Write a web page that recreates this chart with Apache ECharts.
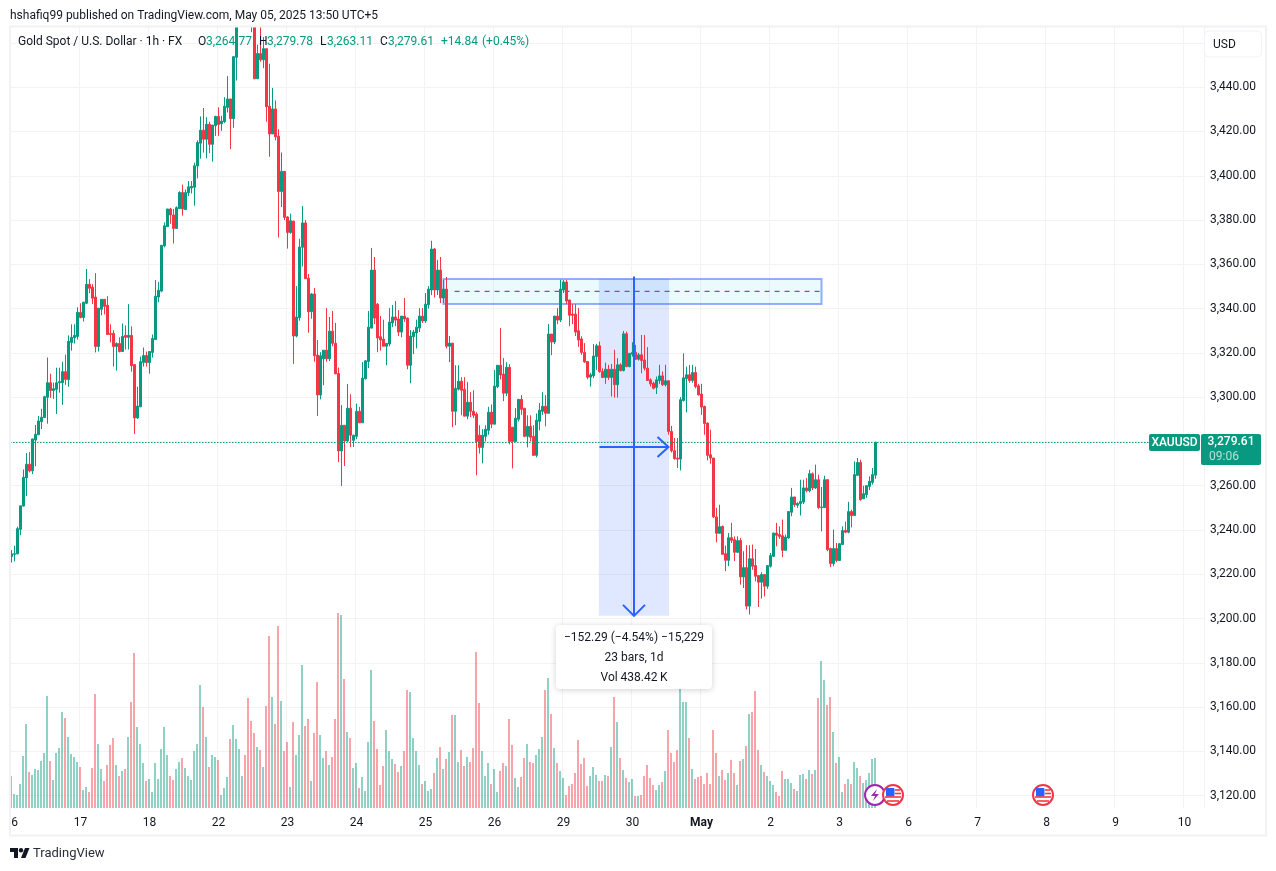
<!DOCTYPE html>
<html>
<head>
<meta charset="utf-8">
<title>XAUUSD 1h</title>
<script src="https://cdn.jsdelivr.net/npm/echarts@6/dist/echarts.min.js"></script>
<style>
html, body { margin: 0; padding: 0; background: #fff; }
#chart { width: 1276px; height: 871px; }
</style>
</head>
<body>
<div id="chart"></div>
<script>
// hourly bars
var opens = [
    3228.0,3229.0,3229.2,3240.3,3250.8,3263.5,3269.7,3266.7,3280.6,3283,
    3288.9,3290.8,3299.9,3306.5,3303,3303.5,3306.5,3306.5,3311.5,3307.9,
    3324.7,3326.8,3327.4,3338.3,3336,3342.4,3351,3349.7,3345.2,3322.9,
    3339.7,3344.2,3341.5,3328.8,3328.8,3322.9,3324.2,3320.6,3327.9,3327,
    3327.9,3314.7,3290.6,3295.6,3315.6,3318.8,3315.6,3320.2,3326,3345.2,
    3347.9,3368.3,3377,3385,3382.3,3376.2,3385.2,3392.4,3384.7,3392.3,
    3394.5,3394.8,3404.4,3414.7,3420.6,3416.5,3423.3,3414.2,3422.6,3426.8,
    3423.5,3424.4,3430.9,3434.7,3425.8,3453.5,3470,3480,3495,3485,
    3478,3470,3443.8,3455.2,3452.4,3457.4,3431.4,3418.9,3430.2,3417.9,
    3392.9,3402,3381.4,3374.4,3379.5,3327.6,3335.9,3367.7,3378.7,3353.7,
    3338.6,3346.6,3319,3301,3317.3,3321.2,3317.3,3329.8,3324.3,3310.7,
    3275.7,3287.3,3280.2,3295,3280.5,3282.3,3293.6,3288.4,3308.3,3316.1,
    3331.2,3357.4,3342,3327.3,3326.2,3323,3324,3333.5,3336.2,3335.3,
    3329.4,3336.6,3335.7,3314.4,3327.3,3329,3331.2,3336.6,3334.4,3341.7,
    3348.4,3366.9,3348.4,3357.4,3344.8,3348.8,3323,3324.4,3293.6,3303.6,
    3307.2,3303.6,3291.4,3297.7,3293.6,3292.3,3282.8,3277.3,3282.3,3285,
    3293.2,3287.8,3304.7,3314.4,3310.4,3301.8,3313.5,3286.4,3280,3290,
    3299,3295,3282.3,3286.8,3282.3,3273.7,3289.1,3293.6,3295.9,3292.7,
    3328.5,3324.9,3336.6,3334.8,3348.4,3352,3343.9,3337.5,3337.5,3330,
    3326.3,3320.2,3316.1,3309,3309.6,3318.3,3323.2,3311.6,3308.9,3312.6,
    3308.9,3312.6,3305.6,3314.6,3312,3328.6,3313.8,3319.4,3320.3,3317.1,
    3319.1,3316.8,3313.1,3307.8,3306.3,3304.4,3307.5,3309.6,3305.6,3307.4,
    3284.5,3275.8,3272.5,3272,3298.5,3308.3,3310.1,3307.5,3311.1,3305.1,
    3301.4,3295.8,3288.3,3274,3272.5,3245.9,3238.5,3241.6,3229.3,3226.3,
    3236.5,3235.6,3229.9,3235.2,3218.8,3223,3205.6,3227,3223.9,3219.4,
    3216.4,3219.9,3214.6,3223.6,3228.1,3238.6,3237.9,3237.4,3230.8,3236.4,
    3248,3254.9,3251.2,3251.9,3252.6,3259,3257.7,3265.4,3259,3262.7,
    3250.1,3250.1,3262.7,3231.6,3224.8,3231.6,3226.2,3233.4,3239.8,3239,
    3248.3,3246.5,3264.7,3270.5,3254.1,3256,3259.7,3261.5,3264.77
];
var closes = [
    3229.2,3229.3,3240.6,3250.9,3263.8,3269.7,3266.7,3281.1,3283.2,3289.2,
    3290.9,3300.2,3306.5,3303,3303.8,3306.5,3307,3311.5,3308,3325.2,
    3327,3327.9,3338.3,3336,3342.9,3351,3349.2,3344.7,3322.9,3340.2,
    3344.2,3341,3328.3,3328.3,3322.9,3324.2,3320.6,3327.4,3327,3327.9,
    3314.2,3290.6,3296,3316,3318.8,3315.6,3320.6,3326.5,3345.6,3348.3,
    3368.6,3377.4,3385,3382.3,3376.2,3385.6,3392.4,3385,3392.4,3395,
    3395.2,3404.5,3415,3420.6,3416.5,3423.3,3414.2,3422.9,3426.8,3423.2,
    3424.7,3431.4,3434.7,3425.8,3453.8,3470,3480,3490,3485,3478,
    3470,3443.8,3455.2,3452.4,3457.4,3431.2,3418.9,3430.2,3417.6,3392.9,
    3402,3381.2,3374.4,3379.7,3327.6,3336.2,3367.8,3378.7,3353.5,3338.6,
    3346.6,3318.7,3301,3318.7,3321.2,3317.3,3329.8,3324.3,3310.5,3275.7,
    3287.3,3280.2,3295,3282.8,3282.8,3293.6,3288.4,3308.6,3316.4,3331.6,
    3357.4,3335.7,3326.7,3325.8,3323,3324.3,3333.9,3336.2,3334.8,3329.4,
    3336.6,3335.3,3314.4,3327.6,3329.4,3331.6,3336.6,3334.4,3342,3348.8,
    3366.9,3348.4,3357.4,3344.8,3348.8,3323,3324.4,3293.6,3304,3307.2,
    3303.1,3291.4,3297.7,3293.6,3291.8,3280,3277.3,3282.8,3285.5,3293.2,
    3287.8,3305,3314.4,3310,3301.8,3313.5,3280,3280,3290.5,3299,
    3294.5,3282.3,3286.8,3281.9,3273.7,3289.6,3294.1,3295.9,3292.7,3328.5,
    3324.9,3336.6,3334.8,3348.8,3352,3343.4,3337,3337,3329.4,3325.8,
    3320.2,3315.9,3309,3310.1,3318.6,3323.2,3311.6,3308.9,3312.6,3308.9,
    3312.6,3305.6,3314.6,3312,3328.6,3313.8,3319.8,3320.2,3317.1,3319.1,
    3316.5,3313.1,3307.5,3306,3304,3307.8,3309.6,3305.6,3307.4,3284.5,
    3275.8,3272.2,3272,3298.8,3308.7,3310.1,3307.5,3311.1,3304.8,3301,
    3295.5,3288.1,3273.7,3272.5,3245.9,3238.5,3241.5,3229,3226.3,3236.5,
    3235.3,3229.9,3235.2,3218.8,3223,3205.6,3227,3223.6,3219.1,3216.4,
    3219.9,3214.6,3223.9,3228.4,3238.6,3237.6,3237.1,3230.8,3236.8,3248.3,
    3254.9,3251.4,3252,3252.9,3259,3257.7,3265.4,3259,3262.7,3250.1,
    3250.4,3262.7,3231.1,3224.8,3231.6,3226.2,3233.8,3239.7,3239,3248.3,
    3246.5,3265,3270.5,3253.7,3256.4,3260,3262,3265,3279.61
];
var lows = [
    3225.3,3225.8,3229.0,3237.6,3250.6,3255.3,3266,3265.2,3268.8,3283,
    3285.6,3290.8,3288,3299.7,3299.2,3292.4,3302,3296.5,3305.6,3304.7,
    3321,3324.2,3326,3335.6,3334.2,3342,3347,3342,3320.2,3320.6,
    3337,3337.4,3328.3,3324.7,3313.8,3312,3320.2,3320.6,3321.5,3321.5,
    3311.5,3283.3,3290.2,3295.6,3313.8,3313.8,3310.6,3317.9,3326,3342.9,
    3347.4,3367.7,3377,3378.3,3369.4,3376.2,3385.2,3382,3384.7,3390.8,
    3392,3386.5,3398.8,3407.7,3410.5,3407.9,3410.2,3406.4,3418,3418,
    3420.3,3423.8,3428.6,3412,3421.7,3443,3468,3478,3478,3470,
    3464.9,3443.8,3443.8,3451.5,3448.6,3424.4,3408.6,3418.9,3416,3372.1,
    3385.9,3380,3367.1,3373.8,3315,3327,3334.5,3359,3353.5,3329.1,
    3335.4,3316,3291.5,3299,3305.4,3316,3316.3,3323,3310.5,3270.7,
    3259.9,3268.9,3279.8,3277.5,3277.5,3281,3288.4,3288.4,3308,3313.1,
    3331,3333,3320.3,3321,3323,3314.4,3323,3331.6,3332,3327.6,
    3327,3334,3312.6,3306.3,3319.4,3322,3329.4,3333.5,3333.5,3340,
    3346.1,3345,3346.1,3342.5,3342.5,3322,3315.8,3286.4,3287.3,3303,
    3291.8,3291.4,3290,3291,3290.5,3264.7,3274.5,3270.1,3280,3283,
    3286,3287.8,3304,3308,3298.2,3300.5,3278.7,3267.8,3280,3289,
    3292,3281.9,3277.3,3280,3273.7,3272.8,3285,3292,3286.8,3292.7,
    3319,3324,3333,3333.9,3347,3342,3332,3333,3327.6,3322.7,
    3319.1,3315.5,3308.1,3304.8,3308.6,3312.3,3311,3308.6,3306,3307.8,
    3300.3,3299.8,3299.8,3311.6,3311.6,3313.5,3313.5,3318.3,3316.8,3316.5,
    3310.8,3312,3307.4,3304.8,3303.5,3301.4,3306,3305,3304.8,3283,
    3275,3271.7,3268,3266.9,3298,3293.1,3306.5,3306.5,3304,3300.8,
    3292,3283,3271.4,3269.9,3245.4,3234.4,3238.5,3229,3221.4,3223.6,
    3234.1,3225.9,3229.6,3215.3,3213.8,3204.1,3201.8,3222,3216.8,3205.2,
    3209,3210,3213.4,3223,3228,3232.6,3236,3227.7,3230.8,3236,
    3246.2,3250.4,3250,3246.5,3251.7,3257,3257,3258,3258.5,3249.5,
    3239.4,3250,3230.4,3223.2,3223.6,3225.4,3226,3233.4,3238.5,3238.5,
    3241.2,3246.5,3264.5,3253.2,3254,3254.5,3258,3260.5,3263.11
];
var highs = [
    3230.9,3232.9,3241.5,3251,3267.3,3274.7,3275.2,3281.2,3287.4,3291.5,
    3294.7,3300.6,3317.9,3310.6,3306.5,3313.3,3313.3,3316,3319.2,3327.9,
    3332.9,3332.9,3340.6,3342.4,3342.9,3357.9,3353.3,3351,3356,3340.2,
    3344.2,3344.2,3345.6,3332.9,3330.2,3324.7,3327,3333.3,3332.4,3342,
    3332,3314.7,3304.7,3318.3,3322.4,3320.6,3320.6,3328.3,3352.9,3352,
    3368.6,3378.9,3385,3385.5,3385,3386.2,3393,3396,3393.8,3397.6,
    3397.6,3405.9,3416,3426.8,3430.6,3426.4,3424.4,3422.9,3427.1,3430.9,
    3427.1,3435.5,3445,3434.7,3453.8,3475,3486,3496,3500,3490,
    3485,3480,3459.2,3468,3462.7,3457.4,3450.6,3439.7,3434,3421,
    3410.5,3402,3381.7,3382.9,3379.7,3350.2,3371.5,3386.4,3380,3355.6,
    3347,3349.3,3325.8,3320.3,3321.2,3340.2,3336.2,3338.9,3333.5,3313.4,
    3296.4,3287.3,3305.9,3301.3,3283,3297.1,3295.6,3315.8,3316.7,3338.9,
    3367.4,3363.3,3342.5,3336.6,3335,3324.3,3340.2,3341.6,3343.4,3339.3,
    3336.6,3344.8,3336,3330.3,3330.3,3335,3340.2,3340.2,3347,3350.2,
    3370.6,3367.4,3362,3363.3,3353,3354.3,3327.6,3324.4,3314.4,3314.4,
    3309,3309,3306.8,3302.2,3303.1,3293.2,3287.3,3285.5,3287.3,3295.6,
    3296.7,3312.2,3314.4,3331.2,3317.6,3315.8,3314.9,3286.4,3295,3299.1,
    3300.9,3295,3291.8,3291.8,3287.3,3292.6,3297.3,3302.2,3300.9,3333,
    3328.5,3336.6,3340.2,3353,3352.9,3353,3343.9,3342,3342,3340.2,
    3327.5,3324.4,3316.1,3311,3324,3324.1,3325.1,3313,3315.6,3314.6,
    3315,3321.4,3317.6,3315.3,3329.9,3329.6,3319.8,3324.8,3323.6,3320,
    3328.1,3328.1,3322.6,3308.5,3307,3309.3,3314.6,3311.6,3314.6,3307.5,
    3287,3281.5,3281.5,3300,3319.8,3313.8,3314.6,3314.6,3313.8,3306,
    3306,3296.2,3288.5,3285.3,3272.5,3250,3251.4,3242,3233,3238.6,
    3243.2,3237.1,3237.1,3236.4,3230.4,3233.1,3233.1,3233.4,3231.4,3219.4,
    3220.9,3220,3224,3229.6,3238.7,3243.2,3241.6,3244.7,3237.9,3248.3,
    3259,3255,3252.5,3262.7,3262.7,3263.4,3267.2,3266,3269.5,3265,
    3259.4,3264.5,3263,3232,3240.2,3234.1,3234,3241.7,3243.8,3252.7,
    3249.2,3271,3272.5,3271.7,3260,3260.1,3264.2,3268,3279.78
];
// volume in thousands
var volumes = [
    16,7,6.5,12,26,42,18,16.5,19.5,19,
    23.5,27.5,56,23.5,14,27.5,30,48,45,35.5,
    27,25.5,23,20.5,9,10.5,8,20,57,32,
    19.5,13.5,21.5,31.5,35,21.5,16,18.5,19.5,35.5,
    53,77.5,40.5,32,22.5,13.5,14.5,8,22.5,14.5,
    29.5,40.5,26.5,16,14,19.5,23,25,20,16,
    14,28.5,32,61.5,50.5,35.5,20.5,26.5,25.5,24,
    6.5,10,15.5,34.5,41.5,34.5,29.5,16,26.5,55,
    43.5,37.5,30.5,29,20.5,51,86,55.5,42,91,
    53.5,28.5,33,10.5,43,26.5,36.5,71.5,41,44.5,
    13.5,37.5,63,36.5,25,28.5,21.5,25.5,44.5,97.3,
    96.5,64.5,38,35,20,22.5,10,15.5,8.5,33,
    69,43.5,29.5,11.5,21,39,28.5,24.5,22,18,
    21,28.5,59,58,35,28.5,21.5,12,13.5,8.5,
    9.5,17.5,25,30.5,19.5,24.5,28,46.5,46.5,23,
    29,21,25.5,23,30,78,52.5,28.5,16,22.5,
    12,19.5,8,18.5,22.5,21,44.5,31.5,15,10.5,
    15.5,25,32,23,22.5,26.5,29.5,35.5,59,65,
    47,30,22.5,18.5,15,6.5,11,12,17.5,34,
    22,25,11,16,20.5,16.5,13.5,13.5,16.5,16,
    30.5,55.5,43,25,19,15,13,14.5,6,6,
    6.5,16,21.5,15,11.5,9,11.5,13,18.5,39,
    27.5,23,29,69.5,53,53,35,19.5,14.5,15.5,
    16,12,17.5,12,39,27.5,16,19,14,17.3,
    24,17.5,11.5,23.5,24.5,31,47,48,58.5,29,
    21.5,18,16,13.5,11.5,8,6,18.5,14.5,14.5,
    12.5,9.5,8.5,16.5,17,14.5,19,17,19,55,
    73.5,64,51.5,55.5,38,22.5,25.5,8,12,14.5,
    12,23,20,16,12.3,14,17.5,24.5,25
];
var priceTicks = [3120,3140,3160,3180,3200,3220,3240,3260,3280,3300,3320,3340,3360,3380,3400,3420,3440,3460];
// day labels sit every 23 bars; the first one is cut by the left edge so it only shows "6"
var dayLabels = ['6','17','18','22','23','24','25','26','29','30','May','2','3','6','7','8','9','10'];
var lastPrice = 3279.61;
// drawings: [fromBar, fromPrice, toBar, toPrice]
var zoneBox = [144, 3353.4, 270, 3342.1];
var zoneMid = [147.7, 3347.8, 270, 3347.8];
var measureBox = [195.8, 3353.5, 219.2, 3201.2];
var measureDown = [207.5, 3354.5, 207.5, 3201.2];
var measureRight = [196, 3277.5, 219, 3277.5];

var UP = '#089981', DOWN = '#F23645', BLUE = '#2962FF', INK = '#131722';
var FONT = 'Roboto, "Noto Sans", sans-serif';
var BAR_SLOTS = 398;

var categories = [];
for (var c = 0; c < BAR_SLOTS; c++) {
    categories.push(String(c));
}
categories[1] = dayLabels[0];
for (var d = 1; d < dayLabels.length; d++) {
    categories[d * 23] = dayLabels[d];
}

var candles = [], volumeBars = [];
for (var i = 0; i < opens.length; i++) {
    candles.push([opens[i], closes[i], lows[i], highs[i]]);
    volumeBars.push([i, volumes[i], closes[i] >= opens[i] ? 1 : 0]);
}

function drawingSeries(name, item, z, draw) {
    return {
        name: name,
        type: 'custom',
        xAxisIndex: 1,
        yAxisIndex: 0,
        z: z,
        silent: true,
        clip: false,
        data: [item],
        encode: { x: [0, 2], y: [1, 3] },
        renderItem: function(params, api) {
            var a = api.coord([api.value(0), api.value(1)]);
            var b = api.coord([api.value(2), api.value(3)]);
            return draw(a, b);
        }
    };
}

function rectOf(a, b, style) {
    return {
        type: 'rect',
        shape: { x: a[0], y: a[1], width: b[0] - a[0], height: b[1] - a[1] },
        style: style
    };
}

function lineStyle(color, width, dash) {
    return { stroke: color, lineWidth: width, fill: null, lineDash: dash || null };
}

function polyOf(points, style) {
    return { type: 'polyline', shape: { points: points }, style: style };
}

function text(x, y, str, color, extra) {
    var style = {
        x: x, y: y, text: str, fill: color || INK,
        font: '12px ' + FONT, textVerticalAlign: 'middle', textAlign: 'left'
    };
    for (var k in extra) {
        style[k] = extra[k];
    }
    return { type: 'text', z: 50, style: style };
}

function rr(x, y, w, h, r, fill, extra) {
    var el = {
        type: 'rect', z: 40,
        shape: { x: x, y: y, width: w, height: h, r: r },
        style: { fill: fill }
    };
    for (var k in extra) {
        el.style[k] = extra[k];
    }
    return el;
}

// flag badge of the economic events row
function flagBadge(x, y) {
    function stripe(x0, x1, yy) {
        return { type: 'line', z: 47, shape: { x1: x + x0, y1: y + yy, x2: x + x1, y2: y + yy },
            style: { stroke: '#F23645', lineWidth: 1.6 } };
    }
    return [
        { type: 'circle', z: 46, shape: { cx: x, cy: y, r: 10 }, style: { fill: '#fff', stroke: '#F23645', lineWidth: 2 } },
        rr(x - 7, y - 7, 8.5, 8.5, 1, '#2962FF', {}),
        stripe(2, 7, -5), stripe(2, 8, -1.5), stripe(-8, 8, 2), stripe(-6, 6, 6)
    ].map(function(el, n) { el.z = n === 0 ? 46 : 47; return el; });
}

var legendValues = [
    [198, 'O', INK], [206, '3,264.77', UP], [259, 'H', INK], [267, '3,279.78', UP],
    [320, 'L', INK], [327, '3,263.11', UP], [380, 'C', INK], [388, '3,279.61', UP],
    [441, '+14.84', UP], [482, '(+0.45%)', UP]
];

var graphics = [
    // bars above the pane are cut here
    { type: 'rect', z: 29, shape: { x: 0, y: 0, width: 1276, height: 26 }, style: { fill: '#fff' } },
    // frame of the pane
    { type: 'rect', z: 30, shape: { x: 10, y: 26.5, width: 1256, height: 809 },
        style: { fill: null, stroke: '#F2F2F2', lineWidth: 2 } },
    text(10, 16, 'hshafiq99 published on TradingView.com, May 05, 2025 13:50 UTC+5', INK),
    text(18, 42, 'Gold Spot / U.S. Dollar \u00b7 1h \u00b7 FX', INK),
    // currency button
    rr(1204.5, 31, 57, 26, 4, '#fff', { stroke: '#F0F3FA', lineWidth: 1 }),
    text(1213, 45, 'USD', INK),
    // last price tags
    rr(1149, 434, 51, 17, 2, UP, {}),
    text(1174.5, 443, 'XAUUSD', '#fff', { textAlign: 'center', font: '500 12px ' + FONT }),
    rr(1201, 434, 60, 31, 2, UP, {}),
    text(1231, 442, '3,279.61', '#fff', { textAlign: 'center', font: '500 12px ' + FONT }),
    text(1224, 457, '09:06', '#B5E0D8', { textAlign: 'center' }),
    // measure tooltip
    rr(556, 625, 156, 64, 4, '#fff', { shadowBlur: 6, shadowColor: 'rgba(0,0,0,0.18)', shadowOffsetY: 1 }),
    text(634, 638, '\u2212152.29 (\u22124.54%) \u221215,229', INK, { textAlign: 'center' }),
    text(634, 658, '23 bars, 1d', INK, { textAlign: 'center' }),
    text(634, 678, 'Vol 438.42\u2009K', INK, { textAlign: 'center' }),
    // events row
    { type: 'circle', z: 45, shape: { cx: 875, cy: 795, r: 10 }, style: { fill: '#fff', stroke: '#9C27B0', lineWidth: 2 } },
    { type: 'polygon', z: 46, shape: { points: [[877, 789], [871, 796], [875, 796], [873, 801], [879, 794], [875, 794]] },
        style: { fill: '#9C27B0' } },
    // TradingView mark
    { type: 'polygon', z: 50, shape: { points: [[10, 848], [18, 848], [18, 858], [14, 858], [14, 852], [10, 852]] },
        style: { fill: INK } },
    { type: 'polygon', z: 50, shape: { points: [[21, 858], [25, 848], [29.5, 848], [25.5, 858]] },
        style: { fill: INK } },
    { type: 'circle', z: 50, shape: { cx: 21, cy: 850.3, r: 2.2 }, style: { fill: INK } },
    text(33, 854, 'TradingView', '#2A2E39', { font: '13px ' + FONT })
].concat(flagBadge(893, 795), flagBadge(1043, 795));

legendValues.forEach(function(item) {
    graphics.push(text(item[0], 42, item[1], item[2]));
});

var chart = echarts.init(document.getElementById('chart'), null, { renderer: 'canvas' });

chart.setOption({
    animation: false,
    backgroundColor: '#fff',
    textStyle: { fontFamily: FONT },
    grid: { left: 10, top: 27, width: 1194, height: 781, containLabel: false },
    xAxis: [{
        type: 'category',
        data: categories,
        boundaryGap: true,
        axisLine: { show: false },
        axisTick: {
            show: false,
            alignWithLabel: true,
            interval: function(idx) { return idx % 23 === 0; }
        },
        splitLine: {
            show: true,
            interval: function(idx) { return idx % 23 === 0; },
            lineStyle: { color: '#F3F3F3', width: 1 }
        },
        axisLabel: {
            interval: function(idx) { return idx === 1 || (idx > 0 && idx % 23 === 0); },
            color: INK,
            fontSize: 12,
            fontFamily: FONT,
            margin: 9,
            hideOverlap: false,
            formatter: function(v) { return v === 'May' ? '{b|May}' : v; },
            rich: { b: { fontWeight: 'bold', fontSize: 12, color: INK, fontFamily: FONT } }
        }
    }, {
        type: 'value',
        show: false,
        min: -0.5,
        max: BAR_SLOTS - 0.5,
        splitLine: { show: false }
    }],
    yAxis: [{
        type: 'value',
        position: 'right',
        min: 3114.4,
        max: 3467.2,
        axisLine: { show: false },
        axisTick: { show: false, customValues: priceTicks },
        splitLine: { show: true, lineStyle: { color: '#F3F3F3', width: 1 } },
        axisLabel: {
            customValues: priceTicks,
            align: 'right',
            margin: 52,
            padding: [2, 0, 0, 0],
            color: INK,
            fontSize: 12,
            fontFamily: FONT,
            formatter: function(v) {
                return v.toLocaleString('en-US', { minimumFractionDigits: 2, maximumFractionDigits: 2 });
            }
        }
    }, {
        type: 'value',
        show: false,
        min: 0,
        max: 390.5,
        splitLine: { show: false }
    }],
    series: [
        {
            // custom so the 2px bars land on whole pixels
            name: 'Volume',
            type: 'custom',
            xAxisIndex: 1,
            yAxisIndex: 1,
            z: 1,
            silent: true,
            data: volumeBars,
            encode: { x: 0, y: 1 },
            renderItem: function(params, api) {
                var top = api.coord([api.value(0), api.value(1)]);
                var base = api.coord([api.value(0), 0]);
                var y = Math.round(top[1]);
                return {
                    type: 'rect',
                    shape: { x: Math.floor(top[0] - 1), y: y, width: 2, height: Math.round(base[1]) - y },
                    style: { fill: api.value(2) ? 'rgba(8,153,129,0.45)' : 'rgba(242,54,69,0.45)' }
                };
            }
        },
        drawingSeries('Zone', zoneBox, 1, function(a, b) {
            return rectOf(a, b, { fill: 'rgba(0,188,212,0.08)', stroke: 'rgba(41,98,255,0.5)', lineWidth: 2 });
        }),
        drawingSeries('Zone mid', zoneMid, 1, function(a, b) {
            return polyOf([a, b], lineStyle('#7B1FA2', 1, [5, 5]));
        }),
        drawingSeries('Measure area', measureBox, 1, function(a, b) {
            return rectOf(a, b, { fill: 'rgba(41,98,255,0.15)' });
        }),
        {
            name: 'XAUUSD',
            type: 'candlestick',
            z: 2,
            barWidth: 2,
            silent: true,
            data: candles,
            itemStyle: {
                color: UP,
                color0: DOWN,
                borderColor: UP,
                borderColor0: DOWN,
                borderWidth: 1
            },
            markLine: {
                silent: true,
                symbol: 'none',
                animation: false,
                label: { show: false },
                lineStyle: { color: UP, type: [1.5, 1.5], width: 1 },
                data: [{ yAxis: lastPrice }]
            }
        },
        drawingSeries('Measure down', measureDown, 3, function(a, b) {
            return {
                type: 'group',
                children: [
                    polyOf([a, b], lineStyle(BLUE, 2)),
                    polyOf([[b[0] - 11, b[1] - 11], b, [b[0] + 11, b[1] - 11]], lineStyle(BLUE, 2))
                ]
            };
        }),
        drawingSeries('Measure right', measureRight, 3, function(a, b) {
            return {
                type: 'group',
                children: [
                    polyOf([a, b], lineStyle(BLUE, 2)),
                    polyOf([[b[0] - 11, b[1] - 10], b, [b[0] - 11, b[1] + 10]], lineStyle(BLUE, 2))
                ]
            };
        })
    ],
    graphic: { elements: graphics }
});
</script>
</body>
</html>
